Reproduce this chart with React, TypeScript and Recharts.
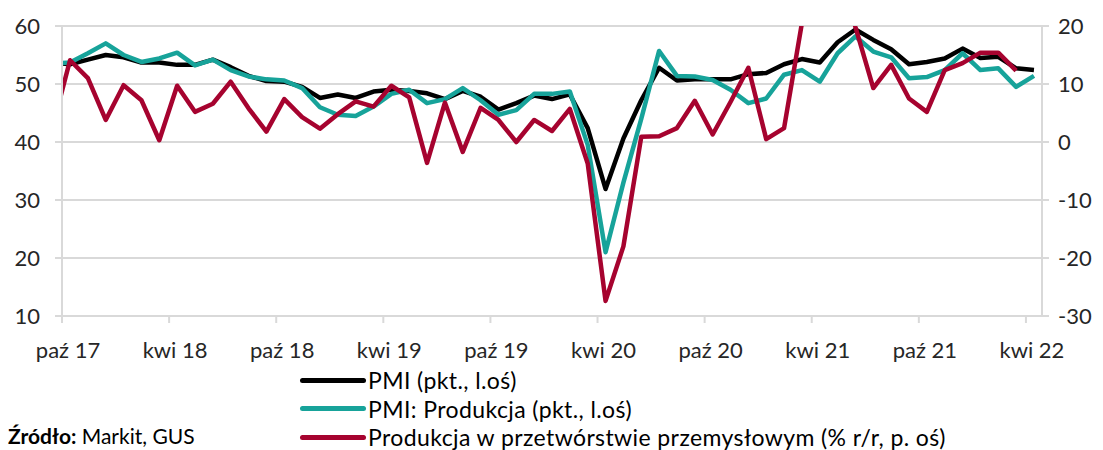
import React from 'react';
import { LineChart, Line, XAxis, YAxis, CartesianGrid } from 'recharts';

// months from wrz 17 to kwi 22 (first one sits just left of the plot and gets clipped)
const months = [
  'wrz 17', 'paź 17', 'lis 17', 'gru 17',
  'sty 18', 'lut 18', 'mar 18', 'kwi 18', 'maj 18', 'cze 18', 'lip 18', 'sie 18', 'wrz 18', 'paź 18', 'lis 18', 'gru 18',
  'sty 19', 'lut 19', 'mar 19', 'kwi 19', 'maj 19', 'cze 19', 'lip 19', 'sie 19', 'wrz 19', 'paź 19', 'lis 19', 'gru 19',
  'sty 20', 'lut 20', 'mar 20', 'kwi 20', 'maj 20', 'cze 20', 'lip 20', 'sie 20', 'wrz 20', 'paź 20', 'lis 20', 'gru 20',
  'sty 21', 'lut 21', 'mar 21', 'kwi 21', 'maj 21', 'cze 21', 'lip 21', 'sie 21', 'wrz 21', 'paź 21', 'lis 21', 'gru 21',
  'sty 22', 'lut 22', 'mar 22', 'kwi 22',
];

const pmi = [
  53.7, 53.4, 54.2, 55.0,
  54.6, 53.7, 53.7, 53.3, 53.3, 54.2, 52.9, 51.4, 50.5, 50.4, 49.5, 47.6,
  48.2, 47.6, 48.7, 49.0, 48.8, 48.4, 47.4, 48.8, 47.8, 45.6, 46.7, 48.0,
  47.4, 48.2, 42.4, 31.9, 40.6, 47.2, 52.8, 50.6, 50.8, 50.8, 50.8, 51.7,
  51.9, 53.4, 54.3, 53.7, 57.2, 59.4, 57.6, 56.0, 53.4, 53.8, 54.4, 56.1,
  54.5, 54.7, 52.7, 52.4,
];

const pmiOutput = [
  53.5, 53.7, 55.3, 57.0,
  55.0, 53.8, 54.4, 55.4, 53.2, 54.2, 52.4, 51.3, 50.8, 50.6, 49.3, 46.0,
  44.7, 44.5, 46.1, 48.3, 49.0, 46.7, 47.4, 49.3, 47.2, 44.7, 45.5, 48.3,
  48.3, 48.7, 39.5, 21.0, 33.0, 44.0, 55.7, 51.4, 51.3, 50.7, 49.0, 46.7,
  47.5, 51.6, 52.4, 50.4, 55.3, 58.2, 55.6, 54.6, 51.0, 51.2, 52.4, 55.3,
  52.4, 52.7, 49.5, 51.4,
];

// % r/r, right axis (spring 2021 goes off the top of the scale)
const manufacturing = [
  2.3, 14.1, 11.0, 3.8,
  9.8, 7.2, 0.3, 9.7, 5.2, 6.6, 10.4, 5.8, 1.8, 7.4, 4.3, 2.3,
  4.8, 7.0, 6.1, 9.7, 7.7, -3.6, 6.8, -1.7, 5.9, 3.8, 0.0, 3.8,
  1.9, 5.7, -3.7, -27.4, -18.0, 0.9, 1.0, 2.4, 7.1, 1.3, 6.9, 12.8,
  0.5, 2.4, 20.5, 50.0, 32.0, 19.8, 9.3, 13.3, 7.5, 5.2, 12.4, 13.6,
  15.4, 15.4, 12.3, null,
];

const xTickLabels = ['paź 17', 'kwi 18', 'paź 18', 'kwi 19', 'paź 19', 'kwi 20', 'paź 20', 'kwi 21', 'paź 21', 'kwi 22'];
const leftTicks = [10, 20, 30, 40, 50, 60];
const rightTicks = [-30, -20, -10, 0, 10, 20];
const seriesNames = [
  'PMI (pkt., l.oś)',
  'PMI: Produkcja (pkt., l.oś)',
  'Produkcja w przetwórstwie przemysłowym (% r/r, p. oś)',
];
const seriesColors = ['#000000', '#17a39a', '#a6032f'];

const data = months.map((m, i) => ({
  pos: i - 1,
  month: m,
  pmi: pmi[i],
  output: pmiOutput[i],
  prod: manufacturing[i],
}));

// tick marks sit at month boundaries, labels a bit to the right
const xTicks = xTickLabels.map((_, j) => j * 6 - 0.45);

const FONT = 'Lato, "Open Sans", sans-serif';
const GRID = '#d9d9d9';

const XTick = (props: any) => {
  const { x, y, index } = props;
  return (
    <text x={x + 6} y={y} dy="0.71em" textAnchor="middle" fontFamily={FONT} fontSize={22} fill="#262626">
      {xTickLabels[index]}
    </text>
  );
};

const App: React.FC = () => {
  return (
    <div style={{ position: 'absolute', left: 0, top: 0, width: 1103, height: 450, overflow: 'hidden', background: '#fff' }}>
      <LineChart width={1103} height={450} data={data} margin={{ top: 26, right: 0, bottom: 0, left: 0 }}>
        <CartesianGrid yAxisId="left" vertical={false} stroke={GRID} strokeWidth={2} />
        <XAxis
          dataKey="pos"
          type="number"
          domain={[-0.45, 54.45]}
          allowDataOverflow
          ticks={xTicks}
          interval={0}
          height={134}
          tick={<XTick />}
          tickSize={7}
          tickMargin={19}
          axisLine={{ stroke: GRID, strokeWidth: 2 }}
          tickLine={{ stroke: GRID, strokeWidth: 2 }}
        />
        <YAxis
          yAxisId="left"
          domain={[10, 60]}
          ticks={leftTicks}
          interval={0}
          width={62}
          tickSize={7}
          tickMargin={15}
          axisLine={{ stroke: GRID, strokeWidth: 2 }}
          tickLine={{ stroke: GRID, strokeWidth: 2 }}
          tick={{ fontFamily: FONT, fontSize: 22, fill: '#262626' }}
        />
        <YAxis
          yAxisId="right"
          orientation="right"
          domain={[-30, 20]}
          allowDataOverflow
          ticks={rightTicks}
          interval={0}
          width={61}
          tickSize={7}
          tickMargin={9}
          axisLine={{ stroke: GRID, strokeWidth: 2 }}
          tickLine={{ stroke: GRID, strokeWidth: 2 }}
          tick={{ fontFamily: FONT, fontSize: 22, fill: '#262626', textAnchor: 'start' }}
        />
        <Line yAxisId="left" dataKey="pmi" name={seriesNames[0]} stroke={seriesColors[0]} strokeWidth={4.5} dot={false} strokeLinejoin="round" isAnimationActive={false} />
        <Line yAxisId="left" dataKey="output" name={seriesNames[1]} stroke={seriesColors[1]} strokeWidth={4.5} dot={false} strokeLinejoin="round" isAnimationActive={false} />
        <Line yAxisId="right" dataKey="prod" name={seriesNames[2]} stroke={seriesColors[2]} strokeWidth={4.5} dot={false} strokeLinejoin="round" isAnimationActive={false} />
      </LineChart>

      {/* legend */}
      <div style={{ position: 'absolute', left: 300, top: 366, fontFamily: FONT, fontSize: 23, letterSpacing: 0.4, color: '#000' }}>
        {seriesNames.map((name, i) => (
          <div key={name} style={{ display: 'flex', alignItems: 'center', height: 28.5 }}>
            <span style={{ display: 'inline-block', width: 66, height: 5, borderRadius: 3, background: seriesColors[i], marginRight: 2 }} />
            <span style={{ whiteSpace: 'nowrap', lineHeight: '28px' }}>{name}</span>
          </div>
        ))}
      </div>

      <div style={{ position: 'absolute', left: 8, top: 424, fontFamily: FONT, fontSize: 21, lineHeight: '24px', color: '#000', whiteSpace: 'nowrap' }}>
        <b>Źródło:</b> Markit, GUS
      </div>
    </div>
  );
};

export default App;
